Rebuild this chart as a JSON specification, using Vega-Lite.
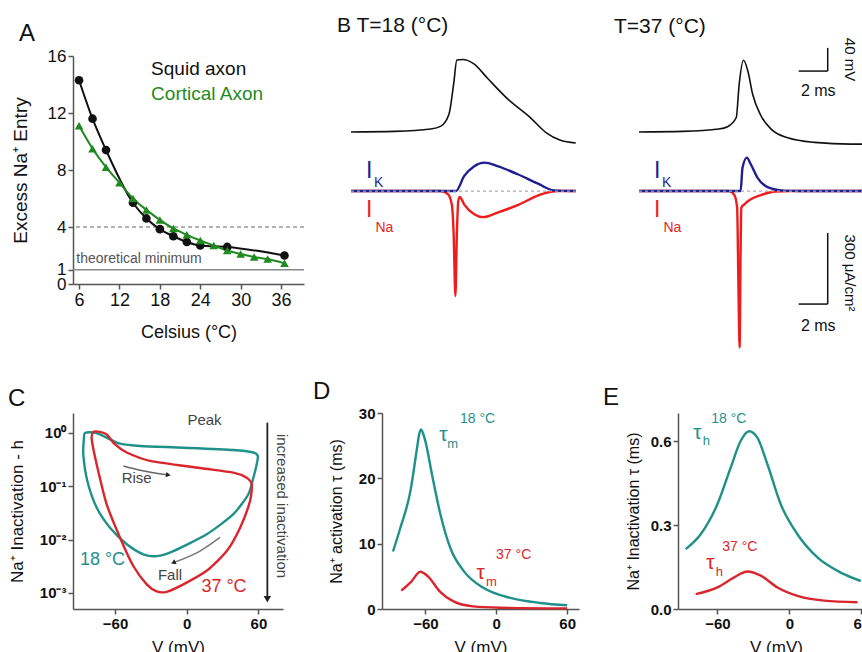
{
"$schema":"https://vega.github.io/schema/vega-lite/v6.json",
"background":"white",
"padding":{"left":8,"top":15,"right":0,"bottom":0},
"config":{
 "font":"Liberation Sans",
 "view":{"stroke":null},
 "axis":{"domainColor":"#555","tickColor":"#555","labelColor":"#111","titleColor":"#111","grid":false,"titleFontWeight":"normal","domainWidth":1.5,"tickWidth":1.5,"tickSize":5,"labelPadding":2,"labelOverlap":false,"labelFont":"Liberation Sans","titleFont":"Liberation Sans"},
 "title":{"fontWeight":"normal","font":"Liberation Sans","color":"#111","anchor":"start","frame":"group"},
 "text":{"font":"Liberation Sans"}
},
"datasets":{
 "excess":[
  {"temp":6,"value":14.3,"axon":"Squid axon"},{"temp":8,"value":11.6,"axon":"Squid axon"},{"temp":10,"value":9.4,"axon":"Squid axon"},{"temp":14,"value":5.7,"axon":"Squid axon"},{"temp":16,"value":4.6,"axon":"Squid axon"},{"temp":18,"value":3.85,"axon":"Squid axon"},{"temp":20,"value":3.35,"axon":"Squid axon"},{"temp":22,"value":2.95,"axon":"Squid axon"},{"temp":24,"value":2.7,"axon":"Squid axon"},{"temp":28,"value":2.6,"axon":"Squid axon"},{"temp":36.5,"value":2.0,"axon":"Squid axon"},
  {"temp":6,"value":11.1,"axon":"Cortical Axon"},{"temp":8,"value":9.5,"axon":"Cortical Axon"},{"temp":10,"value":8.2,"axon":"Cortical Axon"},{"temp":12,"value":7.1,"axon":"Cortical Axon"},{"temp":14,"value":6.0,"axon":"Cortical Axon"},{"temp":16,"value":5.2,"axon":"Cortical Axon"},{"temp":18,"value":4.5,"axon":"Cortical Axon"},{"temp":20,"value":3.9,"axon":"Cortical Axon"},{"temp":22,"value":3.45,"axon":"Cortical Axon"},{"temp":24,"value":3.05,"axon":"Cortical Axon"},{"temp":26,"value":2.7,"axon":"Cortical Axon"},{"temp":28,"value":2.35,"axon":"Cortical Axon"},{"temp":30,"value":2.1,"axon":"Cortical Axon"},{"temp":32,"value":1.9,"axon":"Cortical Axon"},{"temp":34,"value":1.75,"axon":"Cortical Axon"},{"temp":36.5,"value":1.45,"axon":"Cortical Axon"}
 ],
 "ap":[
  {"panel":"18","t":0,"v":-65},{"panel":"18","t":3,"v":-64},{"panel":"18","t":5.5,"v":-60},{"panel":"18","t":6.2,"v":-55},{"panel":"18","t":6.76,"v":-34},{"panel":"18","t":7.08,"v":18},{"panel":"18","t":7.3,"v":59},{"panel":"18","t":7.7,"v":60},{"panel":"18","t":8.5,"v":52},{"panel":"18","t":9.4,"v":28},{"panel":"18","t":10.8,"v":-8},{"panel":"18","t":12.4,"v":-41},{"panel":"18","t":13.5,"v":-67},{"panel":"18","t":14.4,"v":-79},{"panel":"18","t":15.5,"v":-84},
  {"panel":"37","t":0,"v":-65},{"panel":"37","t":3,"v":-64},{"panel":"37","t":5.5,"v":-60},{"panel":"37","t":6.1,"v":-56},{"panel":"37","t":6.7,"v":-40},{"panel":"37","t":6.9,"v":17},{"panel":"37","t":7.2,"v":58.6},{"panel":"37","t":7.5,"v":40},{"panel":"37","t":7.83,"v":0},{"panel":"37","t":8.4,"v":-37},{"panel":"37","t":9.1,"v":-60},{"panel":"37","t":10.25,"v":-75},{"panel":"37","t":12.1,"v":-83},{"panel":"37","t":14.6,"v":-86},{"panel":"37","t":15.5,"v":-86}
 ],
 "cur":[
  {"panel":"18","current":"IK","t":0,"i":0},{"panel":"18","current":"IK","t":7.24,"i":0},{"panel":"18","current":"IK","t":7.8,"i":63},{"panel":"18","current":"IK","t":8.5,"i":105},{"panel":"18","current":"IK","t":9.2,"i":120},{"panel":"18","current":"IK","t":10.1,"i":105},{"panel":"18","current":"IK","t":11.5,"i":71},{"panel":"18","current":"IK","t":12.9,"i":31},{"panel":"18","current":"IK","t":14,"i":3},{"panel":"18","current":"IK","t":15.5,"i":0},
  {"panel":"18","current":"INa","t":0,"i":0},{"panel":"18","current":"INa","t":6.2,"i":0},{"panel":"18","current":"INa","t":6.7,"i":-14},{"panel":"18","current":"INa","t":6.95,"i":-56},{"panel":"18","current":"INa","t":7.08,"i":-183},{"panel":"18","current":"INa","t":7.2,"i":-443},{"panel":"18","current":"INa","t":7.3,"i":-183},{"panel":"18","current":"INa","t":7.4,"i":-42},{"panel":"18","current":"INa","t":7.5,"i":-25},{"panel":"18","current":"INa","t":7.8,"i":-56},{"panel":"18","current":"INa","t":8.5,"i":-98},{"panel":"18","current":"INa","t":9.1,"i":-110},{"panel":"18","current":"INa","t":10.1,"i":-91},{"panel":"18","current":"INa","t":11.5,"i":-59},{"panel":"18","current":"INa","t":13.1,"i":-14},{"panel":"18","current":"INa","t":14.3,"i":0},{"panel":"18","current":"INa","t":15.5,"i":0},
  {"panel":"37","current":"IK","t":0,"i":0},{"panel":"37","current":"IK","t":7.0,"i":0},{"panel":"37","current":"IK","t":7.13,"i":98},{"panel":"37","current":"IK","t":7.43,"i":141},{"panel":"37","current":"IK","t":7.7,"i":113},{"panel":"37","current":"IK","t":8.17,"i":56},{"panel":"37","current":"IK","t":8.85,"i":17},{"panel":"37","current":"IK","t":10,"i":2},{"panel":"37","current":"IK","t":11,"i":0},{"panel":"37","current":"IK","t":15.5,"i":0},
  {"panel":"37","current":"INa","t":0,"i":0},{"panel":"37","current":"INa","t":6.2,"i":0},{"panel":"37","current":"INa","t":6.57,"i":-17},{"panel":"37","current":"INa","t":6.76,"i":-70},{"panel":"37","current":"INa","t":6.85,"i":-400},{"panel":"37","current":"INa","t":6.93,"i":-660},{"panel":"37","current":"INa","t":7.0,"i":-250},{"panel":"37","current":"INa","t":7.05,"i":-70},{"panel":"37","current":"INa","t":7.26,"i":-56},{"panel":"37","current":"INa","t":7.7,"i":-35},{"panel":"37","current":"INa","t":8.4,"i":-17},{"panel":"37","current":"INa","t":9.4,"i":-2},{"panel":"37","current":"INa","t":10.5,"i":0},{"panel":"37","current":"INa","t":15.5,"i":0}
 ],
 "curlabels":[
  {"current":"IK","t":1.26,"i":84,"label":"I","sub":"K","ts":1.9,"is":34},
  {"current":"INa","t":1.26,"i":-78,"label":"I","sub":"Na","ts":2.3,"is":-156}
 ],
 "hloop":[
  {"temp":"18 °C","k":1,"V":-85.2,"h":1.0},{"temp":"18 °C","k":2,"V":-78,"h":1.02},{"temp":"18 °C","k":3,"V":-72.6,"h":0.94},{"temp":"18 °C","k":4,"V":-64.2,"h":0.76},{"temp":"18 °C","k":5,"V":-55.8,"h":0.63},{"temp":"18 °C","k":6,"V":-39,"h":0.57},{"temp":"18 °C","k":7,"V":-2.8,"h":0.53},{"temp":"18 °C","k":8,"V":39,"h":0.48},{"temp":"18 °C","k":9,"V":55.8,"h":0.43},{"temp":"18 °C","k":10,"V":59.5,"h":0.37},{"temp":"18 °C","k":11,"V":58.6,"h":0.26},{"temp":"18 °C","k":12,"V":55.8,"h":0.145},{"temp":"18 °C","k":13,"V":51.6,"h":0.071},{"temp":"18 °C","k":14,"V":39,"h":0.030},{"temp":"18 °C","k":15,"V":16.7,"h":0.0126},{"temp":"18 °C","k":16,"V":-11.2,"h":0.0061},{"temp":"18 °C","k":17,"V":-25.1,"h":0.0049},{"temp":"18 °C","k":18,"V":-36.3,"h":0.0053},{"temp":"18 °C","k":19,"V":-50.2,"h":0.0082},{"temp":"18 °C","k":20,"V":-64.2,"h":0.0167},{"temp":"18 °C","k":21,"V":-75.4,"h":0.040},{"temp":"18 °C","k":22,"V":-83.2,"h":0.126},{"temp":"18 °C","k":23,"V":-86.6,"h":0.40},{"temp":"18 °C","k":24,"V":-86,"h":0.82},
  {"temp":"37 °C","k":1,"V":-78.2,"h":1.05},{"temp":"37 °C","k":2,"V":-72.6,"h":1.05},{"temp":"37 °C","k":3,"V":-67,"h":0.94},{"temp":"37 °C","k":4,"V":-60,"h":0.61},{"temp":"37 °C","k":5,"V":-50.2,"h":0.43},{"temp":"37 °C","k":6,"V":-30.7,"h":0.30},{"temp":"37 °C","k":7,"V":11.1,"h":0.22},{"temp":"37 °C","k":8,"V":39,"h":0.18},{"temp":"37 °C","k":9,"V":50.2,"h":0.145},{"temp":"37 °C","k":10,"V":54.4,"h":0.109},{"temp":"37 °C","k":11,"V":53,"h":0.053},{"temp":"37 °C","k":12,"V":44.7,"h":0.0167},{"temp":"37 °C","k":13,"V":33.5,"h":0.0061},{"temp":"37 °C","k":14,"V":16.7,"h":0.0026},{"temp":"37 °C","k":15,"V":-2.8,"h":0.00145},{"temp":"37 °C","k":16,"V":-16.8,"h":0.00105},{"temp":"37 °C","k":17,"V":-25.1,"h":0.00107},{"temp":"37 °C","k":18,"V":-33.5,"h":0.00145},{"temp":"37 °C","k":19,"V":-44.7,"h":0.0032},{"temp":"37 °C","k":20,"V":-55.9,"h":0.011},{"temp":"37 °C","k":21,"V":-67,"h":0.046},{"temp":"37 °C","k":22,"V":-75.4,"h":0.26},{"temp":"37 °C","k":23,"V":-79.5,"h":0.76}
 ],
 "taum":[
  {"temp":"18 °C","V":-87.4,"tau":8.8},{"temp":"18 °C","V":-81.2,"tau":12.4},{"temp":"18 °C","V":-72.7,"tau":18},{"temp":"18 °C","V":-67,"tau":24.7},{"temp":"18 °C","V":-65.3,"tau":26.7},{"temp":"18 °C","V":-63.7,"tau":27.5},{"temp":"18 °C","V":-62,"tau":26.9},{"temp":"18 °C","V":-60,"tau":25.7},{"temp":"18 °C","V":-54.4,"tau":20.6},{"temp":"18 °C","V":-47.3,"tau":14.5},{"temp":"18 °C","V":-38.8,"tau":9.3},{"temp":"18 °C","V":-27.5,"tau":5.8},{"temp":"18 °C","V":-10.6,"tau":3.2},{"temp":"18 °C","V":12,"tau":1.7},{"temp":"18 °C","V":37.4,"tau":0.92},{"temp":"18 °C","V":60,"tau":0.57},
  {"temp":"37 °C","V":-80.4,"tau":2.8},{"temp":"37 °C","V":-71.9,"tau":4.2},{"temp":"37 °C","V":-64.3,"tau":5.7},{"temp":"37 °C","V":-57.8,"tau":5.0},{"temp":"37 °C","V":-47.9,"tau":2.7},{"temp":"37 °C","V":-36.6,"tau":1.2},{"temp":"37 °C","V":-19.7,"tau":0.4},{"temp":"37 °C","V":3,"tau":0.2},{"temp":"37 °C","V":60,"tau":0.1}
 ],
 "tauh":[
  {"temp":"18 °C","V":-86.4,"tau":0.214},{"temp":"18 °C","V":-73.9,"tau":0.267},{"temp":"18 °C","V":-60,"tau":0.374},{"temp":"18 °C","V":-48.9,"tau":0.505},{"temp":"18 °C","V":-40.6,"tau":0.6},{"temp":"18 °C","V":-33.6,"tau":0.635},{"temp":"18 °C","V":-26.7,"tau":0.612},{"temp":"18 °C","V":-18.3,"tau":0.517},{"temp":"18 °C","V":-7.2,"tau":0.374},{"temp":"18 °C","V":6.7,"tau":0.267},{"temp":"18 °C","V":23.4,"tau":0.184},{"temp":"18 °C","V":42.8,"tau":0.13},{"temp":"18 °C","V":59.5,"tau":0.1},
  {"temp":"37 °C","V":-78,"tau":0.053},{"temp":"37 °C","V":-60,"tau":0.077},{"temp":"37 °C","V":-46,"tau":0.113},{"temp":"37 °C","V":-34.9,"tau":0.134},{"temp":"37 °C","V":-23.8,"tau":0.119},{"temp":"37 °C","V":-9.9,"tau":0.077},{"temp":"37 °C","V":6.7,"tau":0.047},{"temp":"37 °C","V":28.9,"tau":0.030},{"temp":"37 °C","V":56.7,"tau":0.024}
 ]
},
"vconcat":[
 {"hconcat":[
  {
   "width":231,"height":228,
   "title":{"text":"A","fontSize":24,"dx":-54,"offset":1},
   "layer":[
    {"data":{"values":[{}]},"mark":{"type":"rule","color":"#999","strokeDash":[4,3],"strokeWidth":1.3},"encoding":{"y":{"datum":4}}},
    {"data":{"values":[{}]},"mark":{"type":"rule","color":"#888","strokeWidth":1.3},"encoding":{"y":{"datum":1}}},
    {"data":{"name":"excess"},
     "mark":{"type":"line","strokeWidth":2,"interpolate":"monotone"},
     "encoding":{
      "x":{"field":"temp","type":"quantitative","scale":{"domain":[5.1,39.4],"nice":false,"zero":false},"axis":{"values":[6,9,12,15,18,21,24,27,30,33,36,39],"labelExpr":"datum.value % 6 == 0 ? datum.label : ''","title":"Celsius (°C)","labelFontSize":18,"titleFontSize":18,"titlePadding":14}},
      "y":{"field":"value","type":"quantitative","scale":{"domain":[0,16],"nice":false},"axis":{"values":[0,1,4,8,12,16],"title":"Excess Na⁺ Entry","labelFontSize":17,"titleFontSize":19,"titlePadding":17,"encode":{"labels":{"update":{"dy":{"signal":"datum.value == 0 ? 5 : (datum.value == 1 ? -4 : 0)"}}}}}},
      "color":{"field":"axon","type":"nominal","scale":{"domain":["Squid axon","Cortical Axon"],"range":["#111111","#1f8a1f"]},"legend":null}
     }},
    {"data":{"name":"excess"},
     "mark":{"type":"point","filled":true,"opacity":1,"size":75},
     "encoding":{
      "x":{"field":"temp","type":"quantitative"},
      "y":{"field":"value","type":"quantitative"},
      "color":{"field":"axon","type":"nominal","legend":null},
      "shape":{"field":"axon","type":"nominal","scale":{"domain":["Squid axon","Cortical Axon"],"range":["circle","triangle-up"]},"legend":null}
     }},
    {"data":{"values":[{"temp":16.7,"value":15.1,"axon":"Squid axon"},{"temp":16.7,"value":13.3,"axon":"Cortical Axon"}]},
     "mark":{"type":"text","align":"left","baseline":"middle","fontSize":19},
     "encoding":{"x":{"field":"temp","type":"quantitative"},"y":{"field":"value","type":"quantitative"},"text":{"field":"axon"},"color":{"field":"axon","type":"nominal","legend":null}}},
    {"data":{"values":[{"temp":5.6,"value":1.75,"label":"theoretical minimum"}]},
     "mark":{"type":"text","align":"left","baseline":"middle","fontSize":14,"color":"#555"},
     "encoding":{"x":{"field":"temp","type":"quantitative"},"y":{"field":"value","type":"quantitative"},"text":{"field":"label"}}}
   ]
  },
  {
   "width":241,"height":290,
   "title":{"text":"B    T=18 (°C)","fontSize":21,"dx":-14,"offset":20},
   "layer":[
    {"data":{"name":"ap"},"transform":[{"filter":"datum.panel == '18'"}],
     "mark":{"type":"line","color":"#111","strokeWidth":1.6,"interpolate":"monotone"},
     "encoding":{
      "x":{"field":"t","type":"quantitative","scale":{"domain":[0,16.62],"nice":false,"zero":false},"axis":null},
      "y":{"field":"v","type":"quantitative","scale":{"domain":[-434,66],"nice":false,"zero":false},"axis":null}
     }},
    {"layer":[
      {"data":{"name":"cur"},"transform":[{"filter":"datum.panel == '18' && datum.current == 'INa'"}],
       "mark":{"type":"line","strokeWidth":2.4,"interpolate":"monotone"},
       "encoding":{
        "x":{"field":"t","type":"quantitative"},
        "y":{"field":"i","type":"quantitative","scale":{"domain":[-654,570],"nice":false,"zero":false},"axis":null},
        "color":{"field":"current","type":"nominal","scale":{"domain":["INa","IK"],"range":["#f01c1c","#1f1f8f"]},"legend":null}
       }},
      {"data":{"name":"cur"},"transform":[{"filter":"datum.panel == '18' && datum.current == 'IK'"}],
       "mark":{"type":"line","strokeWidth":2.4,"interpolate":"monotone"},
       "encoding":{
        "x":{"field":"t","type":"quantitative"},
        "y":{"field":"i","type":"quantitative"},
        "color":{"field":"current","type":"nominal","legend":null}
       }},
      {"data":{"values":[{}]},"mark":{"type":"rule","color":"#aaa","strokeDash":[3,3],"strokeWidth":1.3},
       "encoding":{"x":{"datum":0},"x2":{"datum":15.5},"y":{"datum":0}}},
      {"data":{"name":"curlabels"},"mark":{"type":"text","fontSize":23,"align":"center","baseline":"middle"},
       "encoding":{"x":{"field":"t","type":"quantitative"},"y":{"field":"i","type":"quantitative"},"text":{"field":"label"},"color":{"field":"current","type":"nominal","legend":null}}},
      {"data":{"name":"curlabels"},"mark":{"type":"text","fontSize":14,"align":"center","baseline":"middle"},
       "encoding":{"x":{"field":"ts","type":"quantitative"},"y":{"field":"is","type":"quantitative"},"text":{"field":"sub"},"color":{"field":"current","type":"nominal","legend":null}}}
    ]}
   ],
   "resolve":{"scale":{"y":"independent"}}
  },
  {
   "width":225,"height":290,
   "title":{"text":"T=37 (°C)","fontSize":21,"dx":-25,"offset":1},
   "layer":[
    {"layer":[
      {"data":{"name":"ap"},"transform":[{"filter":"datum.panel == '37'"}],
       "mark":{"type":"line","color":"#111","strokeWidth":1.6,"interpolate":"monotone"},
       "encoding":{
        "x":{"field":"t","type":"quantitative","scale":{"domain":[0,15.5],"nice":false,"zero":false},"axis":null},
        "y":{"field":"v","type":"quantitative","scale":{"domain":[-434,66],"nice":false,"zero":false},"axis":null}
       }},
      {"data":{"values":[{"t":11,"t2":13,"v":40,"v2":40},{"t":13,"t2":13,"v":40,"v2":80}]},
       "mark":{"type":"rule","color":"#111","strokeWidth":1.5},
       "encoding":{"x":{"field":"t","type":"quantitative"},"x2":{"field":"t2"},"y":{"field":"v","type":"quantitative"},"y2":{"field":"v2"}}},
      {"data":{"values":[{"t":12.35,"v":5.7,"label":"2 ms"}]},
       "mark":{"type":"text","fontSize":16,"align":"center","baseline":"middle","color":"#111"},
       "encoding":{"x":{"field":"t","type":"quantitative"},"y":{"field":"v","type":"quantitative"},"text":{"field":"label"}}},
      {"data":{"values":[{"t":14.55,"v":60,"label":"40 mV"}]},
       "mark":{"type":"text","fontSize":15,"align":"center","baseline":"middle","color":"#111","angle":90},
       "encoding":{"x":{"field":"t","type":"quantitative"},"y":{"field":"v","type":"quantitative"},"text":{"field":"label"}}}
    ]},
    {"layer":[
      {"data":{"name":"cur"},"transform":[{"filter":"datum.panel == '37' && datum.current == 'INa'"}],
       "mark":{"type":"line","strokeWidth":2.4,"interpolate":"monotone"},
       "encoding":{
        "x":{"field":"t","type":"quantitative"},
        "y":{"field":"i","type":"quantitative","scale":{"domain":[-654,570],"nice":false,"zero":false},"axis":null},
        "color":{"field":"current","type":"nominal","scale":{"domain":["INa","IK"],"range":["#f01c1c","#1f1f8f"]},"legend":null}
       }},
      {"data":{"name":"cur"},"transform":[{"filter":"datum.panel == '37' && datum.current == 'IK'"}],
       "mark":{"type":"line","strokeWidth":2.4,"interpolate":"monotone"},
       "encoding":{
        "x":{"field":"t","type":"quantitative"},
        "y":{"field":"i","type":"quantitative"},
        "color":{"field":"current","type":"nominal","legend":null}
       }},
      {"data":{"values":[{}]},"mark":{"type":"rule","color":"#aaa","strokeDash":[3,3],"strokeWidth":1.3},
       "encoding":{"x":{"datum":0},"x2":{"datum":15.5},"y":{"datum":0}}},
      {"data":{"name":"curlabels"},"mark":{"type":"text","fontSize":23,"align":"center","baseline":"middle"},
       "encoding":{"x":{"field":"t","type":"quantitative"},"y":{"field":"i","type":"quantitative"},"text":{"field":"label"},"color":{"field":"current","type":"nominal","legend":null}}},
      {"data":{"name":"curlabels"},"mark":{"type":"text","fontSize":14,"align":"center","baseline":"middle"},
       "encoding":{"x":{"field":"ts","type":"quantitative"},"y":{"field":"is","type":"quantitative"},"text":{"field":"sub"},"color":{"field":"current","type":"nominal","legend":null}}},
      {"data":{"values":[{"t":13,"t2":13,"i":-177,"i2":-477},{"t":11,"t2":13,"i":-477,"i2":-477}]},
       "mark":{"type":"rule","color":"#111","strokeWidth":1.5},
       "encoding":{"x":{"field":"t","type":"quantitative"},"x2":{"field":"t2"},"y":{"field":"i","type":"quantitative"},"y2":{"field":"i2"}}},
      {"data":{"values":[{"t":12.35,"i":-570,"label":"2 ms"}]},
       "mark":{"type":"text","fontSize":16,"align":"center","baseline":"middle","color":"#111"},
       "encoding":{"x":{"field":"t","type":"quantitative"},"y":{"field":"i","type":"quantitative"},"text":{"field":"label"}}},
      {"data":{"values":[{"t":14.55,"i":-346,"label":"300 μA/cm²"}]},
       "mark":{"type":"text","fontSize":15,"align":"center","baseline":"middle","color":"#111","angle":90},
       "encoding":{"x":{"field":"t","type":"quantitative"},"y":{"field":"i","type":"quantitative"},"text":{"field":"label"}}}
    ]}
   ],
   "resolve":{"scale":{"y":"independent"}}
  }
 ],"spacing":47,"bounds":"flush","resolve":{"scale":{"color":"independent","shape":"independent"}}},
 {"hconcat":[
  {
   "width":210,"height":196,
   "title":{"text":"C","fontSize":24,"dx":-65,"offset":2},
   "layer":[
    {"data":{"name":"hloop"},
     "mark":{"type":"line","strokeWidth":2.4,"interpolate":"cardinal-closed","tension":0.3},
     "encoding":{
      "x":{"field":"V","type":"quantitative","scale":{"domain":[-95.2,80.6],"nice":false,"zero":false},"axis":{"values":[-60,0,60],"title":"V (mV)","labelFontSize":15,"labelFontWeight":"bold","titleFontSize":17,"titlePadding":8}},
      "y":{"field":"h","type":"quantitative","scale":{"type":"log","domain":[0.0005,2.37],"nice":false},"axis":{"values":[0.001,0.01,0.1,1],"labelExpr":"datum.value >= 0.99 ? '10⁰' : datum.value >= 0.099 ? '10⁻¹' : datum.value >= 0.0099 ? '10⁻²' : '10⁻³'","title":"Na⁺ Inactivation - h","labelFontSize":15,"labelFontWeight":"bold","titleFontSize":17,"titlePadding":13}},
      "color":{"field":"temp","type":"nominal","scale":{"domain":["18 °C","37 °C"],"range":["#1f918a","#d9262c"]},"legend":null},
      "order":{"field":"k","type":"quantitative"}
     }},
    {"data":{"values":[{"V":-53,"h":0.24},{"V":-39,"h":0.2},{"V":-15.4,"h":0.163}]},
     "mark":{"type":"line","color":"#666","strokeWidth":1.5,"interpolate":"monotone"},
     "encoding":{"x":{"field":"V","type":"quantitative"},"y":{"field":"h","type":"quantitative"}}},
    {"data":{"values":[{"V":-15.4,"h":0.163}]},
     "mark":{"type":"point","shape":"triangle-right","filled":true,"color":"#222","opacity":1,"size":30,"angle":9},
     "encoding":{"x":{"field":"V","type":"quantitative"},"y":{"field":"h","type":"quantitative"}}},
    {"data":{"values":[{"V":27.9,"h":0.011},{"V":11.1,"h":0.0061},{"V":-11.2,"h":0.0037}]},
     "mark":{"type":"line","color":"#777","strokeWidth":1.5,"interpolate":"monotone"},
     "encoding":{"x":{"field":"V","type":"quantitative"},"y":{"field":"h","type":"quantitative"}}},
    {"data":{"values":[{"V":-11.2,"h":0.0037}]},
     "mark":{"type":"point","shape":"triangle-right","filled":true,"color":"#222","opacity":1,"size":30,"angle":156},
     "encoding":{"x":{"field":"V","type":"quantitative"},"y":{"field":"h","type":"quantitative"}}},
    {"data":{"values":[{"V":67.5,"h":1.56,"h2":0.00078}]},
     "mark":{"type":"rule","color":"#222","strokeWidth":1.8},
     "encoding":{"x":{"field":"V","type":"quantitative"},"y":{"field":"h","type":"quantitative"},"y2":{"field":"h2"}}},
    {"data":{"values":[{"V":67.5,"h":0.00076}]},
     "mark":{"type":"point","shape":"triangle-down","filled":true,"color":"#222","opacity":1,"size":55},
     "encoding":{"x":{"field":"V","type":"quantitative"},"y":{"field":"h","type":"quantitative"}}},
    {"data":{"values":[{"V":14.9,"h":1.75,"label":"Peak"},{"V":-41.9,"h":0.143,"label":"Rise"},{"V":-14,"h":0.0022,"label":"Fall"}]},
     "mark":{"type":"text","fontSize":15,"color":"#444","align":"center","baseline":"middle"},
     "encoding":{"x":{"field":"V","type":"quantitative"},"y":{"field":"h","type":"quantitative"},"text":{"field":"label"}}},
    {"data":{"values":[{"V":-70.5,"h":0.00415,"temp":"18 °C"},{"V":31.2,"h":0.00129,"temp":"37 °C"}]},
     "mark":{"type":"text","fontSize":18,"align":"center","baseline":"middle"},
     "encoding":{"x":{"field":"V","type":"quantitative"},"y":{"field":"h","type":"quantitative"},"text":{"field":"temp"},"color":{"field":"temp","type":"nominal","legend":null}}},
    {"data":{"values":[{"V":79.6,"h":0.0427,"label":"increased inactivation"}]},
     "mark":{"type":"text","fontSize":15,"color":"#444","align":"center","baseline":"middle","angle":90},
     "encoding":{"x":{"field":"V","type":"quantitative"},"y":{"field":"h","type":"quantitative"},"text":{"field":"label"}}}
   ]
  },
  {
   "width":197,"height":196,
   "title":{"text":"D","fontSize":24,"dx":-69,"offset":2},
   "layer":[
    {"data":{"name":"taum"},
     "mark":{"type":"line","strokeWidth":2.4,"interpolate":"monotone"},
     "encoding":{
      "x":{"field":"V","type":"quantitative","scale":{"domain":[-96.7,70],"nice":false,"zero":false},"axis":{"values":[-60,0,60],"title":"V (mV)","labelFontSize":15,"labelFontWeight":"bold","titleFontSize":17,"titlePadding":8}},
      "y":{"field":"tau","type":"quantitative","scale":{"domain":[0,30],"nice":false},"axis":{"values":[0,10,20,30],"title":"Na⁺ activation τ (ms)","labelFontSize":15,"labelFontWeight":"bold","titleFontSize":16,"titlePadding":14}},
      "color":{"field":"temp","type":"nominal","scale":{"domain":["18 °C","37 °C"],"range":["#1f918a","#d9262c"]},"legend":null}
     }},
    {"data":{"values":[{"V":-44.7,"tau":26.6,"temp":"18 °C"},{"V":-13.3,"tau":5.5,"temp":"37 °C"}]},
     "mark":{"type":"text","fontSize":21,"align":"center","baseline":"middle","text":"τ"},
     "encoding":{"x":{"field":"V","type":"quantitative"},"y":{"field":"tau","type":"quantitative"},"color":{"field":"temp","type":"nominal","legend":null}}},
    {"data":{"values":[{"V":-37,"tau":25.3,"temp":"18 °C"},{"V":-4.2,"tau":4.1,"temp":"37 °C"}]},
     "mark":{"type":"text","fontSize":13,"align":"center","baseline":"middle","text":"m"},
     "encoding":{"x":{"field":"V","type":"quantitative"},"y":{"field":"tau","type":"quantitative"},"color":{"field":"temp","type":"nominal","legend":null}}},
    {"data":{"values":[{"V":-15.8,"tau":29.1,"temp":"18 °C"},{"V":14.7,"tau":8.2,"temp":"37 °C"}]},
     "mark":{"type":"text","fontSize":14,"align":"center","baseline":"middle"},
     "encoding":{"x":{"field":"V","type":"quantitative"},"y":{"field":"tau","type":"quantitative"},"text":{"field":"temp"},"color":{"field":"temp","type":"nominal","legend":null}}}
   ]
  },
  {
   "width":196,"height":196,
   "title":{"text":"E","fontSize":24,"dx":-75,"offset":2},
   "layer":[
    {"data":{"name":"tauh"},
     "mark":{"type":"line","strokeWidth":2.4,"interpolate":"monotone"},
     "encoding":{
      "x":{"field":"V","type":"quantitative","scale":{"domain":[-92.8,70.5],"nice":false,"zero":false},"axis":{"values":[-60,0,60],"title":"V (mV)","labelFontSize":15,"labelFontWeight":"bold","titleFontSize":17,"titlePadding":8}},
      "y":{"field":"tau","type":"quantitative","scale":{"domain":[0,0.7],"nice":false},"axis":{"values":[0,0.3,0.6],"format":".1f","title":"Na⁺ Inactivation τ (ms)","labelFontSize":15,"labelFontWeight":"bold","titleFontSize":16,"titlePadding":9}},
      "color":{"field":"temp","type":"nominal","scale":{"domain":["18 °C","37 °C"],"range":["#1f918a","#d9262c"]},"legend":null}
     }},
    {"data":{"values":[{"V":-76.7,"tau":0.63,"temp":"18 °C"},{"V":-65.8,"tau":0.165,"temp":"37 °C"}]},
     "mark":{"type":"text","fontSize":21,"align":"center","baseline":"middle","text":"τ"},
     "encoding":{"x":{"field":"V","type":"quantitative"},"y":{"field":"tau","type":"quantitative"},"color":{"field":"temp","type":"nominal","legend":null}}},
    {"data":{"values":[{"V":-69.2,"tau":0.6,"temp":"18 °C"},{"V":-58.3,"tau":0.133,"temp":"37 °C"}]},
     "mark":{"type":"text","fontSize":13,"align":"center","baseline":"middle","text":"h"},
     "encoding":{"x":{"field":"V","type":"quantitative"},"y":{"field":"tau","type":"quantitative"},"color":{"field":"temp","type":"nominal","legend":null}}},
    {"data":{"values":[{"V":-50.4,"tau":0.68,"temp":"18 °C"},{"V":-41.3,"tau":0.22,"temp":"37 °C"}]},
     "mark":{"type":"text","fontSize":14,"align":"center","baseline":"middle"},
     "encoding":{"x":{"field":"V","type":"quantitative"},"y":{"field":"tau","type":"quantitative"},"text":{"field":"temp"},"color":{"field":"temp","type":"nominal","legend":null}}}
   ]
  }
 ],"spacing":99,"bounds":"flush","resolve":{"scale":{"color":"independent","shape":"independent"}}}
],
"spacing":27,
"resolve":{"scale":{"color":"independent","shape":"independent"}}
}
